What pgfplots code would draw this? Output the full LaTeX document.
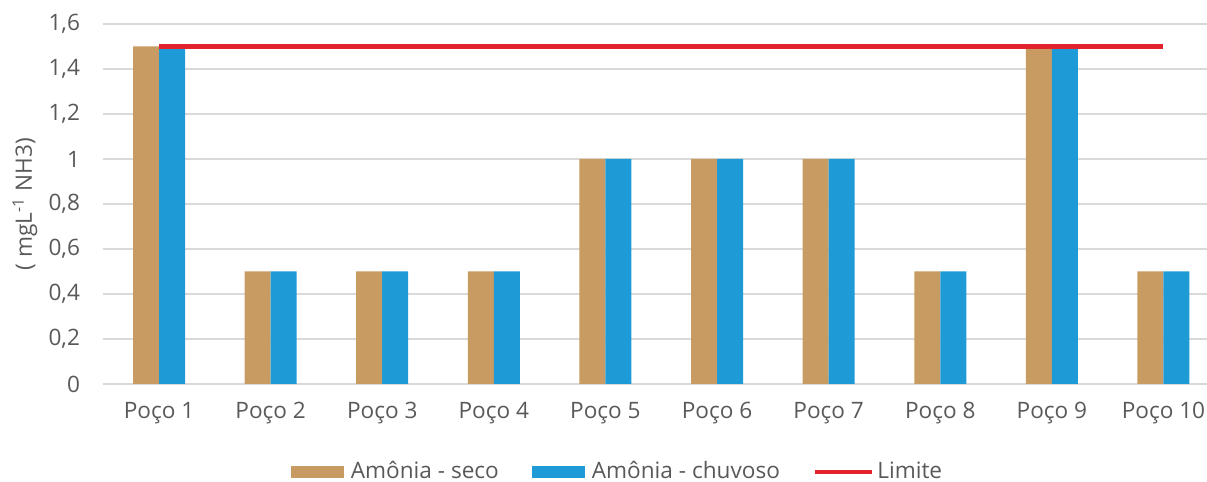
\documentclass[border=0pt]{standalone}
\usepackage{pgfplots}
\pgfplotsset{compat=1.18}
\usepackage{fontspec}
\setmainfont{Open Sans}

\definecolor{seco}{HTML}{C89B63}
\definecolor{chuvoso}{HTML}{1E9AD6}
\definecolor{limite}{HTML}{E3232B}
\definecolor{gridgray}{HTML}{D9D9D9}
\definecolor{txtgray}{HTML}{595959}

\begin{document}
\begin{tikzpicture}[font=\fontsize{11.3}{13.5}\selectfont, text=txtgray]
\begin{axis}[
  name=ax,
  scale only axis,
  width=552pt, height=180pt,
  xmin=-0.502, xmax=9.39,
  ymin=0, ymax=1.6,
  axis line style={draw=none},
  tick style={draw=none},
  ymajorgrids,
  major grid style={gridgray, line width=0.6pt},
  ytick={0,0.2,0.4,0.6,0.8,1,1.2,1.4,1.6},
  yticklabel style={xshift=-8pt},
  /pgf/number format/.cd, use comma, fixed, assume math mode=true,
  /pgfplots/.cd,
  xtick={0,1,2,3,4,5,6,7,8,9},
  xticklabels={Poço 1,Poço 2,Poço 3,Poço 4,Poço 5,Poço 6,Poço 7,Poço 8,Poço 9,Poço 10},
  xticklabel style={yshift=-5.5pt},
  ylabel={( mgL\textsuperscript{-1} NH3)},
  every axis y label/.style={at={(axis description cs:-0.0707,0.5)}, rotate=90, anchor=center},
  bar width=0.233,
  legend columns=3,
  legend style={at={(axis description cs:0.4665,-0.244)}, anchor=center, draw=none, fill=none,
    /tikz/every even column/.append style={column sep=15pt},
    nodes={inner sep=1.5pt}},
  legend cell align=left,
]
\addplot[ybar, bar shift=-0.1165, fill=seco, draw=none,
  legend image code/.code={\fill[seco] (0pt,-3pt) rectangle (26.5pt,3pt); \path (28.5pt,0pt);}]
  coordinates {(0,1.5) (1,0.5) (2,0.5) (3,0.5) (4,1) (5,1) (6,1) (7,0.5) (8,1.5) (9,0.5)};
\addlegendentry{Amônia - seco}
\addplot[ybar, bar shift=0.1165, fill=chuvoso, draw=none,
  legend image code/.code={\fill[chuvoso] (0pt,-3pt) rectangle (26.5pt,3pt); \path (28.5pt,0pt);}]
  coordinates {(0,1.5) (1,0.5) (2,0.5) (3,0.5) (4,1) (5,1) (6,1) (7,0.5) (8,1.5) (9,0.5)};
\addlegendentry{Amônia - chuvoso}
\addplot[limite, line width=2.2pt, mark=none,
  legend image code/.code={\draw[limite, line width=2.2pt] (0pt,0pt) -- (28.5pt,0pt);}]
  coordinates {(0,1.5) (9,1.5)};
\addlegendentry{Limite}
\end{axis}
\pgfresetboundingbox
\path[use as bounding box] ([xshift=-51.5pt,yshift=-49pt]ax.south west) rectangle ++(603.5pt,241pt);
\end{tikzpicture}
\end{document}
